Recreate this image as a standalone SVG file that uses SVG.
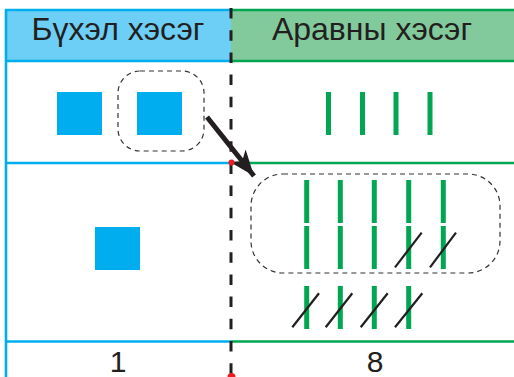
<svg xmlns="http://www.w3.org/2000/svg" width="514" height="377" viewBox="0 0 514 377">
<style>
.lbl{font-family:"Liberation Sans",Arial,sans-serif;fill:#231f20;text-anchor:middle}
.bl{stroke:#00aeef;stroke-width:2.6;fill:none}
.gr{stroke:#00a651;stroke-width:2.6;fill:none}
.sq{fill:#00aeef}
.st{stroke:#00a651;stroke-width:5}
.sl{stroke:#231f20;stroke-width:2.2}
.grp{fill:none;stroke:#333;stroke-width:1.2;stroke-dasharray:5 4}
.dot{fill:#ed1c24}
</style>
<defs>
<marker id="ah" markerUnits="userSpaceOnUse" viewBox="0 0 26 20" refX="26" refY="10" markerWidth="26" markerHeight="20" orient="auto">
<path d="M0,0 L26,10 L0,20 L7,10 Z" fill="#231f20"/>
</marker>
</defs>
<g id="header-left">
<rect x="6" y="10" width="225" height="51" fill="#6dcff6"/>
<line class="bl" x1="5" y1="10" x2="231" y2="10"/>
<line class="bl" x1="5" y1="61" x2="231" y2="61"/>
<text class="lbl" x="118" y="40" font-size="32">Бүхэл хэсэг</text>
</g>
<g id="header-right">
<rect x="231" y="10" width="283" height="51" fill="#82ca9c"/>
<line class="gr" x1="231" y1="10" x2="514" y2="10"/>
<line class="gr" x1="231" y1="61" x2="514" y2="61"/>
<text class="lbl" x="372" y="40" font-size="32">Аравны хэсэг</text>
</g>
<g id="grid">
<line class="bl" x1="6" y1="9" x2="6" y2="377"/>
<line class="bl" x1="5" y1="163" x2="231" y2="163"/>
<line class="bl" x1="5" y1="341.5" x2="231" y2="341.5"/>
<line class="gr" x1="231" y1="163" x2="514" y2="163"/>
<line class="gr" x1="231" y1="341.5" x2="514" y2="341.5"/>
</g>
<g id="row1-units">
<rect class="sq" x="57" y="92" width="45" height="43"/>
<rect class="sq" x="137" y="92" width="45" height="43"/>
<rect id="group1" class="grp" x="118" y="71" width="86" height="80" rx="22"/>
</g>
<g id="row1-tens">
<line class="st" x1="328.5" y1="92" x2="328.5" y2="135"/>
<line class="st" x1="362.5" y1="92" x2="362.5" y2="135"/>
<line class="st" x1="396" y1="92" x2="396" y2="135"/>
<line class="st" x1="430" y1="92" x2="430" y2="135"/>
</g>
<g id="row2-units">
<rect class="sq" x="95" y="227" width="45" height="43"/>
</g>
<g id="row2-tens">
<rect id="group2" class="grp" x="251" y="174" width="249" height="99" rx="32"/>
<line class="st" x1="306.7" y1="180" x2="306.7" y2="223"/>
<line class="st" x1="340.3" y1="180" x2="340.3" y2="223"/>
<line class="st" x1="374.3" y1="180" x2="374.3" y2="223"/>
<line class="st" x1="408.7" y1="180" x2="408.7" y2="223"/>
<line class="st" x1="443.3" y1="180" x2="443.3" y2="223"/>
<line class="st" x1="306.7" y1="226" x2="306.7" y2="269"/>
<line class="st" x1="340.3" y1="226" x2="340.3" y2="269"/>
<line class="st" x1="374.3" y1="226" x2="374.3" y2="269"/>
<line class="st" x1="408.7" y1="226" x2="408.7" y2="269"/>
<line class="st" x1="443.3" y1="226" x2="443.3" y2="269"/>
<line class="sl" x1="395" y1="267.3" x2="421.7" y2="232.7"/>
<line class="sl" x1="430" y1="267.3" x2="456" y2="232.7"/>
<line class="st" x1="306.7" y1="286" x2="306.7" y2="329"/>
<line class="st" x1="340.3" y1="286" x2="340.3" y2="329"/>
<line class="st" x1="374.3" y1="286" x2="374.3" y2="329"/>
<line class="st" x1="408.7" y1="286" x2="408.7" y2="329"/>
<line class="sl" x1="292.3" y1="327.3" x2="319" y2="293.3"/>
<line class="sl" x1="325.7" y1="327.3" x2="352.3" y2="293.3"/>
<line class="sl" x1="360.7" y1="327.3" x2="387.7" y2="293.3"/>
<line class="sl" x1="395" y1="327.3" x2="422.3" y2="293.3"/>
</g>
<g id="totals">
<text class="lbl" x="118" y="372" font-size="30">1</text>
<text class="lbl" x="375" y="372" font-size="30">8</text>
</g>
<g id="connectors">
<line x1="231" y1="8" x2="231" y2="377" stroke="#231f20" stroke-width="3" stroke-dasharray="10.5 11.7"/>
<line x1="207" y1="117" x2="254" y2="176" stroke="#231f20" stroke-width="5" marker-end="url(#ah)"/>
<circle class="dot" cx="231.5" cy="162.5" r="3"/>
<circle class="dot" cx="231.5" cy="377" r="4"/>
</g>
</svg>
